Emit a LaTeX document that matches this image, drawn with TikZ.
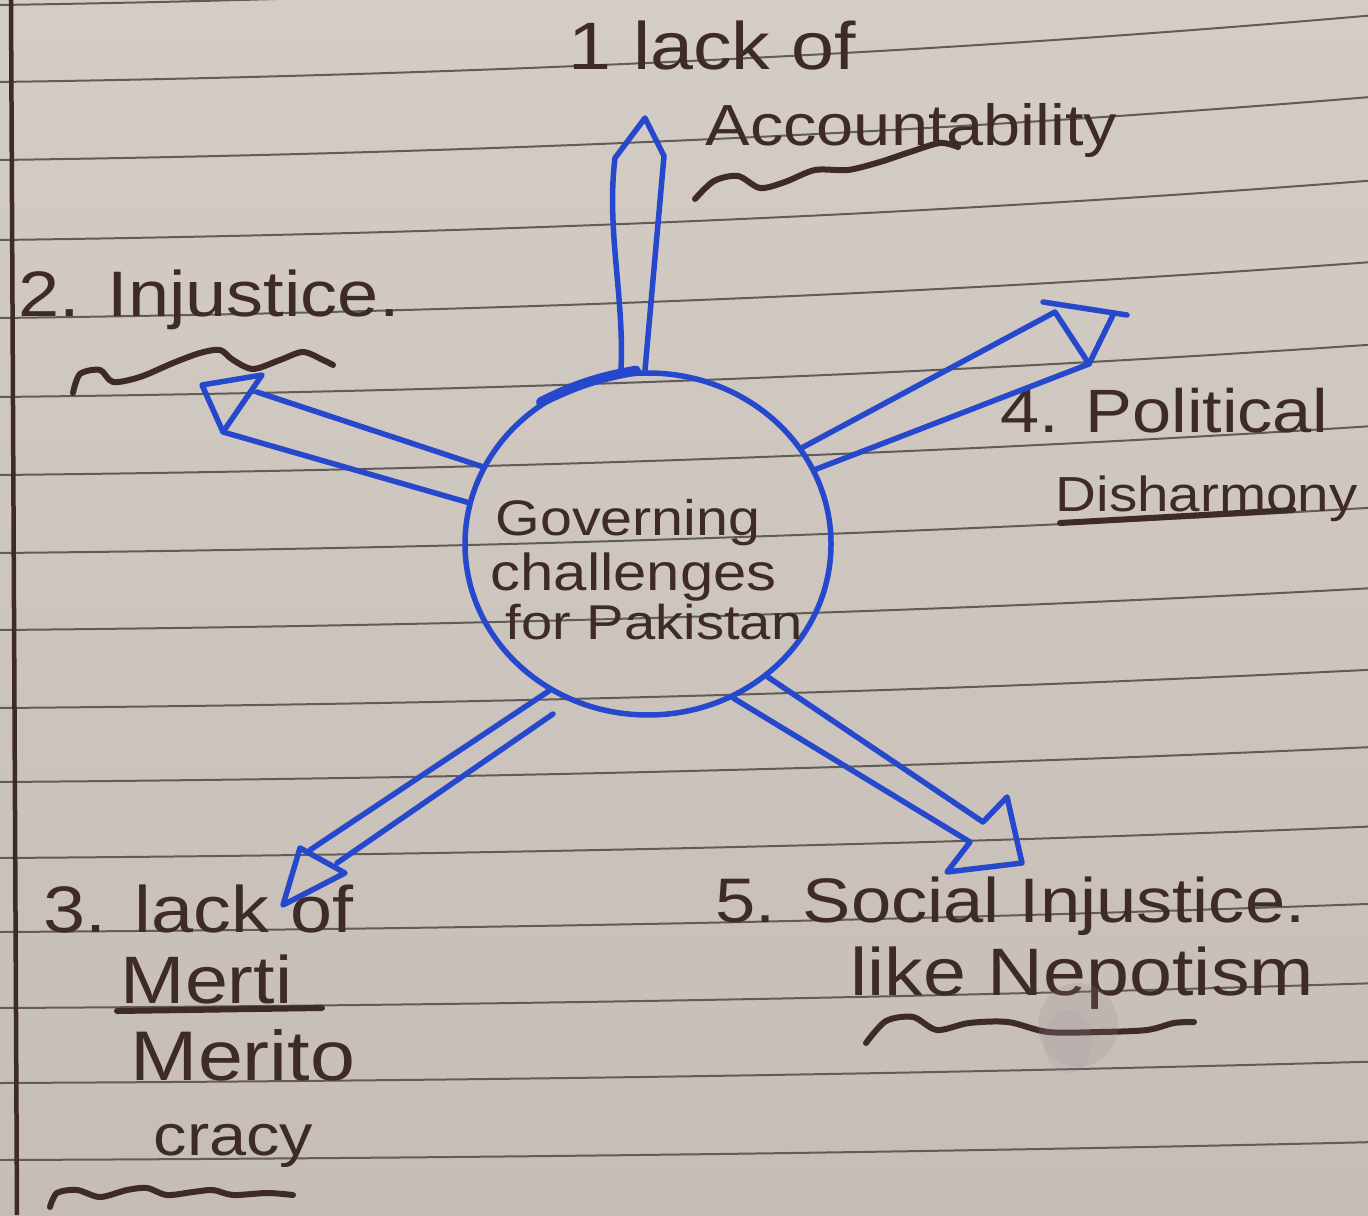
\documentclass[tikz,border=0pt]{standalone}
\usepackage{fontspec}
\setmainfont[FakeStretch = 1.15]{Liberation Sans}
\usetikzlibrary{shapes.geometric}
\definecolor{paper}{RGB}{212,205,197}
\definecolor{paperdark}{RGB}{197,189,182}
\definecolor{ink}{RGB}{62,42,38}
\definecolor{penblue}{RGB}{38,72,205}
\definecolor{ruling}{RGB}{98,92,88}
\definecolor{smudge}{RGB}{150,136,146}

\begin{document}
\begin{tikzpicture}[
    x = 0.1mm, y = -0.1mm,
    paperline/.style = { ruling, line width = 0.2mm },
    pen/.style = { penblue, line width = 0.55mm, line cap = round, line join = round },
    squiggle/.style = { ink, line width = 0.6mm, line cap = round, line join = round },
    jot/.style = {
      text = ink, anchor = base west, inner sep = 0pt,
      font = \fontsize{#1}{#1}\selectfont
    },
    hubring/.style = {
      ellipse, draw = penblue, line width = 0.55mm,
      minimum width = 36.6mm, minimum height = 34.2mm, inner sep = 0pt
    }
  ]
  \useasboundingbox (0,0) rectangle (1368,1215);
  \shade[top color = paper, bottom color = paperdark] (0,0) rectangle (1368,1215);
  \foreach \ly in {5,82,160,240,318,397,475,553,630,708,782,858,932,1008,1083,1160} {
    \pgfmathsetmacro\dr{70-0.045*\ly}
    \draw[paperline] (0,\ly) .. controls (456,{\ly-0.1*\dr}) and (912,{\ly-0.4*\dr})
      .. (1368,{\ly-\dr});
  }
  \draw[ink, line width = 0.45mm] (11,0) -- (17,1215);

  \node[hubring] (hub) at (648,544) {};
  \node[jot=14.2] (govA) at (495,535) {Governing};
  \node[jot=14.8] (govB) at (490,590) {challenges};
  \node[jot=13.9] (govC) at (505,639) {for Pakistan};

  \node[jot=19.1] (accA) at (568,70) {1 lack of};
  \node[jot=16.5] (accB) at (705,146) {Accountability};
  \node[jot=18.3] (inj) at (18,317) {2. Injustice.};
  \node[jot=17.4] (polA) at (1000,432) {4. Political};
  \node[jot=14] (polB) at (1055,512) {Disharmony};
  \node[jot=18.7] (merA) at (43,932) {3. lack of};
  \node[jot=19.1] (merB) at (120,1003) {Merti};
  \node[jot=20] (merC) at (130,1080) {Merito};
  \node[jot=16.5] (merD) at (153,1155) {cracy};
  \node[jot=17.9] (socA) at (715,922) {5. Social Injustice.};
  \node[jot=19.1] (socB) at (850,995) {like Nepotism};

  \coordinate (u1) at (615,158);
  \coordinate (u2) at (664,156);
  \coordinate (u3) at (645,118);
  \coordinate (i1) at (257,392);
  \coordinate (i2) at (223,432);
  \coordinate (i3) at (202,385);
  \coordinate (i4) at (262,375);
  \coordinate (p1) at (1055,312);
  \coordinate (p2) at (1089,364);
  \coordinate (p3) at (1043,302);
  \coordinate (p4) at (1127,315);
  \coordinate (p5) at (1113,315);
  \coordinate (m0) at (553,714);
  \coordinate (m1) at (310,850);
  \coordinate (m2) at (337,863);
  \coordinate (m3) at (300,848);
  \coordinate (m4) at (345,873);
  \coordinate (m5) at (283,905);
  \coordinate (s1) at (983,822);
  \coordinate (s2) at (970,842);
  \coordinate (s3) at (1007,797);
  \coordinate (s4) at (1022,863);
  \coordinate (s5) at (947,872);

  \draw[pen] (hub.99) .. controls (625,300) and (606,230) .. (u1) -- (u3) -- (u2)
    -- (hub.91);
  \draw[pen, line width = 1mm] (hub.127) to[bend left = 8] (hub.94);
  \draw[pen] (hub.155) -- (i1);
  \draw[pen] (hub.167) -- (i2);
  \draw[pen] (i3) -- (i4) -- (i2) -- cycle;
  \draw[pen] (hub.32) -- (p1) -- (p2) -- (p5);
  \draw[pen] (hub.24) -- (p2);
  \draw[pen] (p3) -- (p4);
  \draw[pen] (hub.236) -- (m1);
  \draw[pen] (m0) -- (m2);
  \draw[pen] (m3) -- (m4) -- (m5) -- cycle;
  \draw[pen] (hub.312) -- (s1) -- (s3) -- (s4) -- (s5) -- (s2) -- (hub.299);

  \draw[squiggle] plot[smooth] coordinates {(695,199) (714,181) (738,176) (760,188)
    (785,182) (815,170) (848,170) (880,162) (910,152) (940,143) (958,147)};
  \draw[squiggle] plot[smooth] coordinates {(73,393) (80,374) (100,370) (113,382)
    (140,377) (173,363) (200,353) (220,350) (233,360) (253,369) (280,360) (303,352)
    (323,360) (333,365)};
  \draw[squiggle] (1060,523) -- (1293,510);
  \draw[squiggle] (117,1011) -- (322,1008);
  \draw[squiggle] plot[smooth] coordinates {(50,1207) (57,1193) (77,1190) (100,1197)
    (127,1190) (147,1188) (167,1195) (193,1192) (213,1190) (233,1195) (267,1193)
    (293,1195)};
  \draw[squiggle] plot[smooth] coordinates {(866,1043) (886,1021) (913,1017) (937,1030)
    (969,1023) (1008,1022) (1048,1032) (1100,1032) (1147,1030) (1174,1023) (1194,1022)};
  \fill[smudge, opacity = 0.18] (1078,1025) ellipse [x radius = 40, y radius = 42];
  \fill[smudge, opacity = 0.12] (1068,1042) ellipse [x radius = 24, y radius = 32];
\end{tikzpicture}
\end{document}
